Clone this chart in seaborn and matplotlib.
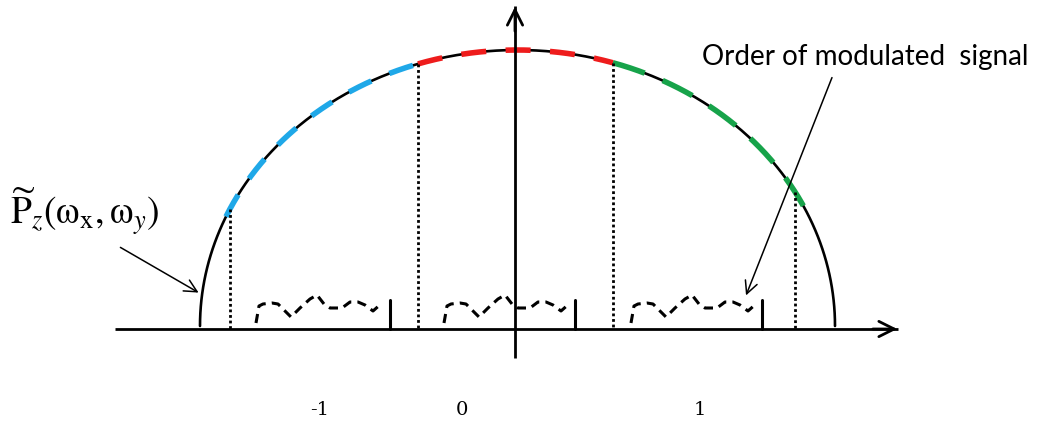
import numpy as np
import pandas as pd
import matplotlib
matplotlib.use("Agg")
import matplotlib.pyplot as plt
import seaborn as sns

# ---- data (diagram geometry in pixel units of the canvas) ----
curve_left, curve_right = 200, 835        # ends of the half-ellipse P_z
curve_base, curve_top = 326, 50
order_bounds = [226, 418, 613, 805]       # order boundaries on the curve
order_labels = ["-1", "0", "1"]
order_label_x = [320, 462, 700]
order_colors = ["#1fa8e8", "#ee1c1c", "#17a34a"]
dotted_x = [230, 418, 613, 795]
# one copy of the modulated-signal sketch (relative x, y)
sig_x = [0, 3, 7, 16, 22, 35, 44, 54, 61, 68, 74, 86, 94, 102, 109, 117, 126]
sig_y = [323, 306, 304, 303, 304, 317, 308, 299, 295, 304, 308, 308, 302, 302, 305, 311, 303]
sig_starts = [256, 444, 631]
sig_ticks = [390, 575, 762]

sns.set_style("white")
plt.rcParams["mathtext.fontset"] = "stix"

fig = plt.figure(figsize=(10.45, 4.25), dpi=100)
ax = fig.add_axes([0, 0, 1, 1])
ax.set_xlim(0, 1045)
ax.set_ylim(425, 0)
ax.axis("off")

cx = (curve_left + curve_right) / 2
a = (curve_right - curve_left) / 2
b = curve_base - curve_top


def ell(x):
    x = np.asarray(x, float)
    return curve_base - b * np.sqrt(np.clip(1 - ((x - cx) / a) ** 2, 0, 1))


# black curve
t = np.linspace(np.pi, 0, 400)
cdf = pd.DataFrame({"x": cx + a * np.cos(t), "y": curve_base - b * np.sin(t)})
sns.lineplot(data=cdf, x="x", y="y", sort=False, estimator=None, color="black", lw=1.9, ax=ax)

# coloured dashed order segments
dash_pat = [(0, (4.5, 3.5)), (0, (4.5, 3.5)), (0, (6, 3.5))]
for i, col in enumerate(order_colors):
    xs = np.linspace(order_bounds[i], order_bounds[i + 1], 200)
    sdf = pd.DataFrame({"x": xs, "y": ell(xs)})
    sns.lineplot(data=sdf, x="x", y="y", sort=False, estimator=None, color=col,
                 lw=4.0, linestyle=dash_pat[i], ax=ax, solid_capstyle="butt",
                 dash_capstyle="butt")

# dotted verticals
for x in dotted_x:
    ax.plot([x, x], [float(ell(x)), 329], color="black", lw=2.0,
            linestyle=(0, (1.0, 1.0)))

# axes
ax.plot([115, 898], [329, 329], color="black", lw=2, solid_capstyle="butt")
ax.annotate("", xy=(900, 329), xytext=(870, 329),
            arrowprops=dict(arrowstyle="->,head_length=1.1,head_width=0.55", lw=2, color="black"))
ax.plot([515, 515], [358, 6], color="black", lw=2, solid_capstyle="butt")
ax.annotate("", xy=(515, 4), xytext=(515, 34),
            arrowprops=dict(arrowstyle="->,head_length=1.1,head_width=0.55", lw=2, color="black"))

# modulated signal sketches
for s, tk in zip(sig_starts, sig_ticks):
    sx = [s + v for v in sig_x]
    sns.lineplot(x=sx, y=sig_y, sort=False, estimator=None, color="black", lw=2.2,
                 linestyle=(0, (3.0, 2.0)), ax=ax)
    ax.plot([tk, tk], [300, 329], color="black", lw=2.2)

# labels
for lx, lb in zip(order_label_x, order_labels):
    ax.text(lx, 410, lb, ha="center", va="center", fontsize=14,
            family="DejaVu Serif", color="black")

ax.text(865, 57, "Order of modulated  signal", ha="center", va="center",
        fontsize=20, family="Lato", color="black")
ax.annotate("", xy=(745, 298), xytext=(833, 75),
            arrowprops=dict(arrowstyle="->,head_length=0.9,head_width=0.45", lw=1.1, color="black"))

ax.text(10, 212, r"$\widetilde{\mathrm{P}}_z(\mathrm{\omega}_{\mathrm{x}},\mathrm{\omega}_y)$",
        ha="left", va="center", fontsize=27, color="black")
ax.annotate("", xy=(201, 294), xytext=(118, 246),
            arrowprops=dict(arrowstyle="->,head_length=0.9,head_width=0.45", lw=1.1, color="black"))

fig.savefig("out.png", dpi=100)
